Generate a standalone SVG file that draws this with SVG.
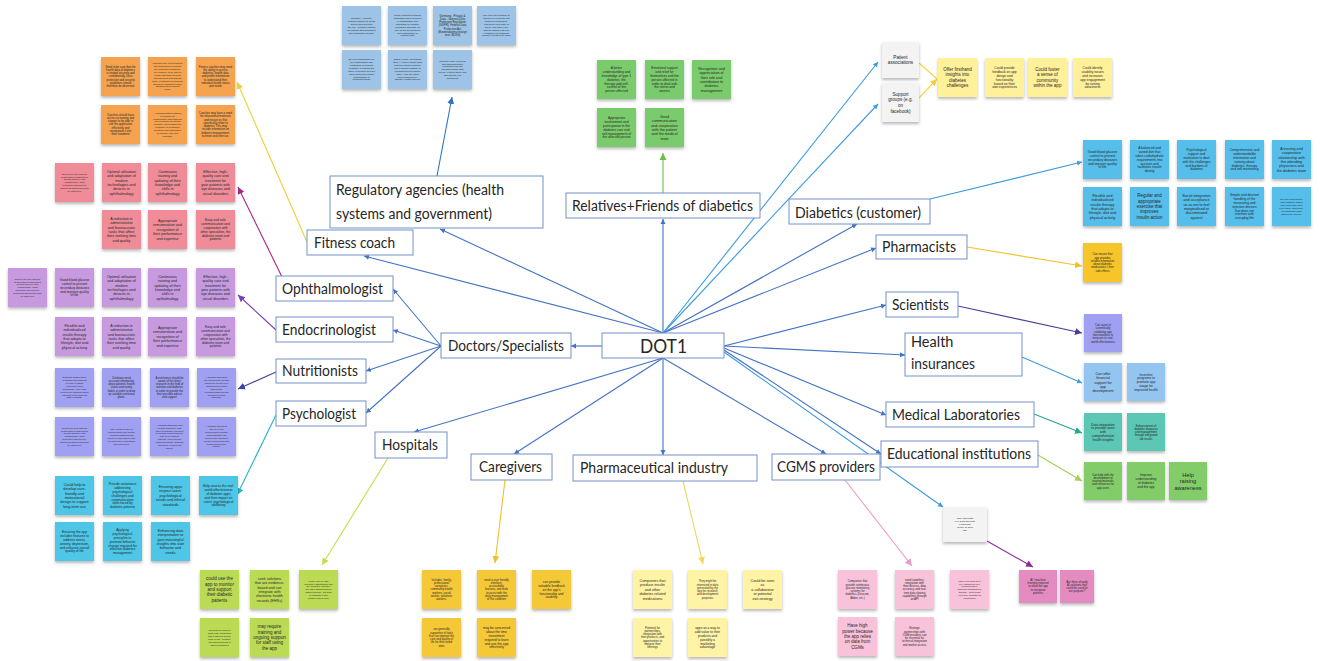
<svg xmlns="http://www.w3.org/2000/svg" width="1320" height="661" viewBox="0 0 1320 661">
<defs>
<filter id="sh" x="-20%" y="-20%" width="140%" height="150%"><feDropShadow dx="0" dy="2" stdDeviation="1.4" flood-color="#000" flood-opacity="0.28"/></filter>
<marker id="mb" markerUnits="userSpaceOnUse" markerWidth="6" markerHeight="6" refX="5" refY="3" orient="auto"><path d="M0,0.5 L5,3 L0,5.5 z" fill="#4472C4"/></marker>
<marker id="mlb" markerUnits="userSpaceOnUse" markerWidth="6" markerHeight="6" refX="5" refY="3" orient="auto"><path d="M0,0.5 L5,3 L0,5.5 z" fill="#3C9BDD"/></marker>
<marker id="mreg" markerUnits="userSpaceOnUse" markerWidth="8" markerHeight="8" refX="7" refY="4" orient="auto"><path d="M0,0.5 L7,4 L0,7.5 z" fill="#2E75B6"/></marker>
<marker id="mgr" markerUnits="userSpaceOnUse" markerWidth="8" markerHeight="8" refX="7" refY="4" orient="auto"><path d="M0,0.5 L7,4 L0,7.5 z" fill="#6CC04A"/></marker>
<marker id="myl" markerUnits="userSpaceOnUse" markerWidth="8" markerHeight="8" refX="7" refY="4" orient="auto"><path d="M0,0.5 L7,4 L0,7.5 z" fill="#EFD03A"/></marker>
<marker id="mmag" markerUnits="userSpaceOnUse" markerWidth="8" markerHeight="8" refX="7" refY="4" orient="auto"><path d="M0,0.5 L7,4 L0,7.5 z" fill="#A8287E"/></marker>
<marker id="mpur" markerUnits="userSpaceOnUse" markerWidth="8" markerHeight="8" refX="7" refY="4" orient="auto"><path d="M0,0.5 L7,4 L0,7.5 z" fill="#7A3FB5"/></marker>
<marker id="mnav" markerUnits="userSpaceOnUse" markerWidth="8" markerHeight="8" refX="7" refY="4" orient="auto"><path d="M0,0.5 L7,4 L0,7.5 z" fill="#3F3FA8"/></marker>
<marker id="mcy" markerUnits="userSpaceOnUse" markerWidth="8" markerHeight="8" refX="7" refY="4" orient="auto"><path d="M0,0.5 L7,4 L0,7.5 z" fill="#22B5C8"/></marker>
<marker id="myg" markerUnits="userSpaceOnUse" markerWidth="8" markerHeight="8" refX="7" refY="4" orient="auto"><path d="M0,0.5 L7,4 L0,7.5 z" fill="#C9DB4A"/></marker>
<marker id="mgo" markerUnits="userSpaceOnUse" markerWidth="8" markerHeight="8" refX="7" refY="4" orient="auto"><path d="M0,0.5 L7,4 L0,7.5 z" fill="#F0C02A"/></marker>
<marker id="mpa" markerUnits="userSpaceOnUse" markerWidth="8" markerHeight="8" refX="7" refY="4" orient="auto"><path d="M0,0.5 L7,4 L0,7.5 z" fill="#EFD85C"/></marker>
<marker id="mpk" markerUnits="userSpaceOnUse" markerWidth="8" markerHeight="8" refX="7" refY="4" orient="auto"><path d="M0,0.5 L7,4 L0,7.5 z" fill="#EE9CC6"/></marker>
<marker id="mvi" markerUnits="userSpaceOnUse" markerWidth="8" markerHeight="8" refX="7" refY="4" orient="auto"><path d="M0,0.5 L7,4 L0,7.5 z" fill="#8B2C9C"/></marker>
<marker id="msc" markerUnits="userSpaceOnUse" markerWidth="8" markerHeight="8" refX="7" refY="4" orient="auto"><path d="M0,0.5 L7,4 L0,7.5 z" fill="#4B3F9C"/></marker>
<marker id="mte" markerUnits="userSpaceOnUse" markerWidth="8" markerHeight="8" refX="7" refY="4" orient="auto"><path d="M0,0.5 L7,4 L0,7.5 z" fill="#25A88E"/></marker>
<marker id="mlg" markerUnits="userSpaceOnUse" markerWidth="8" markerHeight="8" refX="7" refY="4" orient="auto"><path d="M0,0.5 L7,4 L0,7.5 z" fill="#A6CF55"/></marker>
<style>
.lb rect{fill:#fff;stroke:#7391C9;stroke-width:1}
.lb text{font-family:Lato,'Liberation Sans',sans-serif;font-size:14.5px;fill:#262626}
.nt{filter:url(#sh)}
.n0,.n1,.n2,.n3,.n4,.n5,.pa{font-family:'Liberation Sans',Arial,sans-serif;fill:#262626;text-anchor:middle}
.n0{font-size:2.4px}.n1{font-size:2.8px}.n2{font-size:3.3px}.n3{font-size:3.7px}.n4{font-size:4.5px}.n5{font-size:5.6px}.pa{font-size:4.6px}
.reg{fill:#9DC3E6}.org{fill:#F5A34F}.rel{fill:#7ACB6C}.pnk{fill:#F08C98}.pur{fill:#C79AE0}.per{fill:#A0A0F2}.cya{fill:#4DC6E8}
.gry{fill:#F3F3F3}.ylw{fill:#FFF09A}.rbl{fill:#55BEEB}.gld{fill:#F5C52B}.hin{fill:#94C5F0}.tea{fill:#5CC7B5}.edu{fill:#82CC6A}
.ygr{fill:#BCDB54}.car{fill:#F5C838}.pha{fill:#FFF3A6}.cgm{fill:#F9C2DB}.mag{fill:#E48CC2}
.c{fill:none;stroke-width:1.1}
</style>
</defs>
<rect width="1320" height="661" fill="#fff"/>

<g id="connectors">
<g stroke="#4472C4" class="c">
<line x1="663" y1="333" x2="440" y2="229" marker-end="url(#mb)"/>
<line x1="663" y1="333" x2="663" y2="219" marker-end="url(#mb)"/>
<line x1="663" y1="333" x2="364" y2="256" marker-end="url(#mb)"/>
<line x1="663" y1="333" x2="857" y2="224" marker-end="url(#mb)"/>
<line x1="663" y1="333" x2="876" y2="248" marker-end="url(#mb)"/>
<line x1="602" y1="346" x2="571" y2="346" marker-end="url(#mb)"/>
<line x1="441" y1="346" x2="393" y2="289" marker-end="url(#mb)"/>
<line x1="441" y1="346" x2="393" y2="330" marker-end="url(#mb)"/>
<line x1="441" y1="346" x2="366" y2="371" marker-end="url(#mb)"/>
<line x1="441" y1="346" x2="366" y2="413" marker-end="url(#mb)"/>
<line x1="724" y1="346" x2="886" y2="305" marker-end="url(#mb)"/>
<line x1="724" y1="346" x2="905" y2="355" marker-end="url(#mb)"/>
<line x1="724" y1="348" x2="886" y2="415" marker-end="url(#mb)"/>
<line x1="724" y1="350" x2="881" y2="454" marker-end="url(#mb)"/>
<line x1="663" y1="358" x2="414" y2="432" marker-end="url(#mb)"/>
<line x1="663" y1="358" x2="514" y2="454" marker-end="url(#mb)"/>
<line x1="663" y1="358" x2="663" y2="455" marker-end="url(#mb)"/>
<line x1="663" y1="358" x2="826" y2="454" marker-end="url(#mb)"/>
</g>
<g stroke="#3C9BDD" class="c">
<line x1="663" y1="333" x2="878" y2="62" marker-end="url(#mlb)"/>
<line x1="663" y1="333" x2="878" y2="104" marker-end="url(#mlb)"/>
<line x1="724" y1="352" x2="943" y2="507" marker-end="url(#mlb)"/>
<line x1="930" y1="199" x2="1082" y2="162" marker-end="url(#mlb)"/>
<line x1="1022" y1="357" x2="1082" y2="383" marker-end="url(#mlb)"/>
</g>
<line class="c" stroke="#2E75B6" x1="437" y1="176" x2="452" y2="97" marker-end="url(#mreg)"/>
<line class="c" stroke="#6CC04A" x1="663" y1="193" x2="663" y2="153" marker-end="url(#mgr)"/>
<line class="c" stroke="#EFD03A" x1="307" y1="242" x2="237" y2="82" marker-end="url(#myl)"/>
<line class="c" stroke="#A8287E" x1="282" y1="277" x2="238" y2="187" marker-end="url(#mmag)"/>
<line class="c" stroke="#7A3FB5" x1="276" y1="330" x2="238" y2="295" marker-end="url(#mpur)"/>
<line class="c" stroke="#3F3FA8" x1="276" y1="372" x2="238" y2="389" marker-end="url(#mnav)"/>
<line class="c" stroke="#22B5C8" x1="276" y1="415" x2="237" y2="495" marker-end="url(#mcy)"/>
<line class="c" stroke="#C9DB4A" x1="388" y1="458" x2="322" y2="565" marker-end="url(#myg)"/>
<line class="c" stroke="#F0C02A" x1="505" y1="480" x2="495" y2="563" marker-end="url(#mgo)"/>
<line class="c" stroke="#EFD85C" x1="683" y1="481" x2="703" y2="564" marker-end="url(#mpa)"/>
<line class="c" stroke="#EE9CC6" x1="845" y1="480" x2="912" y2="566" marker-end="url(#mpk)"/>
<line class="c" stroke="#8B2C9C" x1="987" y1="541" x2="1033" y2="567" marker-end="url(#mvi)"/>
<line class="c" stroke="#EFC530" x1="967" y1="247" x2="1082" y2="266" marker-end="url(#mgo)"/>
<line class="c" stroke="#4B3F9C" x1="958" y1="306" x2="1082" y2="333" marker-end="url(#msc)"/>
<line class="c" stroke="#25A88E" x1="1034" y1="414" x2="1082" y2="433" marker-end="url(#mte)"/>
<line class="c" stroke="#A6CF55" x1="1038" y1="455" x2="1082" y2="481" marker-end="url(#mlg)"/>
<line class="c" stroke="#F5D63D" x1="919" y1="63" x2="937" y2="79"/>
<line class="c" stroke="#F5D63D" x1="919" y1="98" x2="937" y2="79" marker-end="url(#myl)"/>
</g>

<g id="labels">
<g id="node-regulatory" class="lb"><rect x="330" y="176" width="213" height="52"/><text x="336" y="195" textLength="168" lengthAdjust="spacingAndGlyphs">Regulatory agencies (health</text><text x="336" y="219" textLength="156" lengthAdjust="spacingAndGlyphs">systems and government)</text></g>
<g id="node-relatives" class="lb"><rect x="566" y="193" width="194" height="25"/><text x="572" y="211" textLength="181" lengthAdjust="spacingAndGlyphs">Relatives+Friends of diabetics</text></g>
<g id="node-diabetics" class="lb"><rect x="789" y="199" width="141" height="25"/><text x="795" y="217.5" textLength="126" lengthAdjust="spacingAndGlyphs">Diabetics (customer)</text></g>
<g id="node-fitness" class="lb"><rect x="307" y="230" width="106" height="25"/><text x="314" y="247.5" textLength="81" lengthAdjust="spacingAndGlyphs">Fitness coach</text></g>
<g id="node-pharmacists" class="lb"><rect x="876" y="235" width="91" height="24"/><text x="882" y="252" textLength="74" lengthAdjust="spacingAndGlyphs">Pharmacists</text></g>
<g id="node-ophthalmologist" class="lb"><rect x="276" y="276" width="117" height="25"/><text x="282" y="293.5" textLength="101" lengthAdjust="spacingAndGlyphs">Ophthalmologist</text></g>
<g id="node-scientists" class="lb"><rect x="886" y="292" width="72" height="25"/><text x="892" y="309.5" textLength="57" lengthAdjust="spacingAndGlyphs">Scientists</text></g>
<g id="node-endocrinologist" class="lb"><rect x="276" y="317" width="117" height="25"/><text x="282" y="334.5" textLength="94" lengthAdjust="spacingAndGlyphs">Endocrinologist</text></g>
<g id="node-doctors" class="lb"><rect x="441" y="333" width="130" height="25"/><text x="448" y="350.5" textLength="116" lengthAdjust="spacingAndGlyphs">Doctors/Specialists</text></g>
<g id="node-dot1" class="lb"><rect x="602" y="333" width="122" height="25"/><text x="640" y="353" style="font-size:20px" textLength="47" lengthAdjust="spacingAndGlyphs">DOT1</text></g>
<g id="node-health-insurances" class="lb"><rect x="905" y="333" width="117" height="43"/><text x="911" y="347">Health</text><text x="911" y="369" textLength="64" lengthAdjust="spacingAndGlyphs">insurances</text></g>
<g id="node-nutritionists" class="lb"><rect x="276" y="359" width="90" height="24"/><text x="282" y="376" textLength="76" lengthAdjust="spacingAndGlyphs">Nutritionists</text></g>
<g id="node-psychologist" class="lb"><rect x="276" y="401" width="90" height="25"/><text x="282" y="418.5" textLength="74" lengthAdjust="spacingAndGlyphs">Psychologist</text></g>
<g id="node-medical-labs" class="lb"><rect x="886" y="402" width="148" height="25"/><text x="892" y="419.5" textLength="128" lengthAdjust="spacingAndGlyphs">Medical Laboratories</text></g>
<g id="node-educational" class="lb"><rect x="881" y="441" width="157" height="26"/><text x="887" y="459" textLength="144" lengthAdjust="spacingAndGlyphs">Educational institutions</text></g>
<g id="node-hospitals" class="lb"><rect x="375" y="432" width="72" height="26"/><text x="382" y="450" textLength="56" lengthAdjust="spacingAndGlyphs">Hospitals</text></g>
<g id="node-caregivers" class="lb"><rect x="471" y="454" width="81" height="26"/><text x="479" y="472" textLength="63" lengthAdjust="spacingAndGlyphs">Caregivers</text></g>
<g id="node-pharma" class="lb"><rect x="573" y="455" width="184" height="26"/><text x="580" y="473" textLength="148" lengthAdjust="spacingAndGlyphs">Pharmaceutical industry</text></g>
<g id="node-cgms" class="lb"><rect x="772" y="454" width="108" height="26"/><text x="777" y="472" textLength="98" lengthAdjust="spacingAndGlyphs">CGMS providers</text></g>
</g>

<g id="notes-regulatory">
<g id="reg-1" transform="translate(342,6)"><rect class="nt reg" width="39" height="39"/><text class="n0" y="13.09"><tspan x="19.5">Germany - Medical:</tspan><tspan x="19.5" dy="2.9">Federal Institute for Drugs</tspan><tspan x="19.5" dy="2.9">and Medical Devices</tspan><tspan x="19.5" dy="2.9">(BfArM) - German Institute</tspan><tspan x="19.5" dy="2.9">for Medical Documentation</tspan><tspan x="19.5" dy="2.9">and Information (DIMDI)</tspan></text></g>
<g id="reg-2" transform="translate(388,6)"><rect class="nt reg" width="39" height="39"/><text class="n0" y="10.19"><tspan x="19.5">DIMDI maintains medical</tspan><tspan x="19.5" dy="2.9">databases and is involved</tspan><tspan x="19.5" dy="2.9">in classification and</tspan><tspan x="19.5" dy="2.9">standards for medical</tspan><tspan x="19.5" dy="2.9">processes and data, as</tspan><tspan x="19.5" dy="2.9">well as the development</tspan><tspan x="19.5" dy="2.9">and classification of</tspan><tspan x="19.5" dy="2.9">medical data</tspan></text></g>
<g id="reg-3" transform="translate(433,6)"><rect class="nt reg" width="39" height="39"/><text class="n1" y="10.58"><tspan x="19.5">Germany - Privacy &amp;</tspan><tspan x="19.5" dy="3.3">Data - General Data</tspan><tspan x="19.5" dy="3.3">Protection Regulation</tspan><tspan x="19.5" dy="3.3">(GDPR), Federal Data</tspan><tspan x="19.5" dy="3.3">Protection Act</tspan><tspan x="19.5" dy="3.3">(Bundesdatenschutzge</tspan><tspan x="19.5" dy="3.3">setz, BDSG)</tspan></text></g>
<g id="reg-4" transform="translate(477,6)"><rect class="nt reg" width="39" height="39"/><text class="n0" y="10.19"><tspan x="19.5">May have the authority to</tspan><tspan x="19.5" dy="2.9">approve or reject the app</tspan><tspan x="19.5" dy="2.9">based on compliance.</tspan><tspan x="19.5" dy="2.9">This group can make or</tspan><tspan x="19.5" dy="2.9">break. Use data, if we</tspan><tspan x="19.5" dy="2.9">want to market it as type</tspan><tspan x="19.5" dy="2.9">1 diabetes for treatment,</tspan><tspan x="19.5" dy="2.9">decision needs to be made</tspan></text></g>
<g id="reg-5" transform="translate(342,50)"><rect class="nt reg" width="39" height="39"/><text class="n0" y="10.19"><tspan x="19.5">BfArM is responsible for</tspan><tspan x="19.5" dy="2.9">the authorisation and</tspan><tspan x="19.5" dy="2.9">registration of medical</tspan><tspan x="19.5" dy="2.9">products. It ensures the</tspan><tspan x="19.5" dy="2.9">safety of medical devices</tspan><tspan x="19.5" dy="2.9">and pursues the market</tspan><tspan x="19.5" dy="2.9">authorisation of</tspan><tspan x="19.5" dy="2.9">pharmaceuticals</tspan></text></g>
<g id="reg-6" transform="translate(388,50)"><rect class="nt reg" width="39" height="39"/><text class="n0" y="10.19"><tspan x="19.5">Digital Health Applications</tspan><tspan x="19.5" dy="2.9">(DiGA): Law on digital apps</tspan><tspan x="19.5" dy="2.9">requires clinical evidence</tspan><tspan x="19.5" dy="2.9">and a specific pathway to</tspan><tspan x="19.5" dy="2.9">reimbursement of digital</tspan><tspan x="19.5" dy="2.9">apps. Apps are listed</tspan><tspan x="19.5" dy="2.9">and reimbursed by</tspan><tspan x="19.5" dy="2.9">statutory health insurers</tspan></text></g>
<g id="reg-7" transform="translate(433,50)"><rect class="nt reg" width="39" height="39"/><text class="n0" y="11.64"><tspan x="19.5">Generally have concerns</tspan><tspan x="19.5" dy="2.9">that pharmaceutical</tspan><tspan x="19.5" dy="2.9">companies can ask</tspan><tspan x="19.5" dy="2.9">questions about data</tspan><tspan x="19.5" dy="2.9">privacy. Patient safety and</tspan><tspan x="19.5" dy="2.9">data security are</tspan><tspan x="19.5" dy="2.9">paramount</tspan></text></g>
</g>

<g id="notes-fitness">
<g id="fit-1" transform="translate(101,57)"><rect class="nt org" width="39" height="39"/><text class="n1" y="10.58"><tspan x="19.5">Need to be sure that the</tspan><tspan x="19.5" dy="3.3">health data of diabetics</tspan><tspan x="19.5" dy="3.3">is treated securely and</tspan><tspan x="19.5" dy="3.3">confidentially. Data</tspan><tspan x="19.5" dy="3.3">protection and security</tspan><tspan x="19.5" dy="3.3">guidelines should</tspan><tspan x="19.5" dy="3.3">therefore be observed.</tspan></text></g>
<g id="fit-2" transform="translate(148,57)"><rect class="nt org" width="39" height="39"/><text class="n0" y="7.29"><tspan x="19.5">Coaches may need features</tspan><tspan x="19.5" dy="2.9">that allow them to monitor</tspan><tspan x="19.5" dy="2.9">the progress of diabetics,</tspan><tspan x="19.5" dy="2.9">for example, to be able to</tspan><tspan x="19.5" dy="2.9">create individual physical</tspan><tspan x="19.5" dy="2.9">training plans and discuss</tspan><tspan x="19.5" dy="2.9">them. Feedback on progress</tspan><tspan x="19.5" dy="2.9">should be enabled to make</tspan><tspan x="19.5" dy="2.9">adjustments to training</tspan><tspan x="19.5" dy="2.9">plans.</tspan></text></g>
<g id="fit-3" transform="translate(196,57)"><rect class="nt org" width="39" height="39"/><text class="n1" y="10.58"><tspan x="19.5">Fitness coaches may need</tspan><tspan x="19.5" dy="3.3">the ability to access</tspan><tspan x="19.5" dy="3.3">diabetics' health data</tspan><tspan x="19.5" dy="3.3">and profile information</tspan><tspan x="19.5" dy="3.3">to understand their</tspan><tspan x="19.5" dy="3.3">individual health status</tspan><tspan x="19.5" dy="3.3">and needs</tspan></text></g>
<g id="fit-4" transform="translate(101,105)"><rect class="nt org" width="39" height="39"/><text class="n1" y="10.58"><tspan x="19.5">Coaches should have</tspan><tspan x="19.5" dy="3.3">access to training and</tspan><tspan x="19.5" dy="3.3">support to be able to</tspan><tspan x="19.5" dy="3.3">use the application</tspan><tspan x="19.5" dy="3.3">effectively and</tspan><tspan x="19.5" dy="3.3">incorporate it into</tspan><tspan x="19.5" dy="3.3">their treatment</tspan></text></g>
<g id="fit-5" transform="translate(148,105)"><rect class="nt org" width="39" height="39"/><text class="n0" y="8.74"><tspan x="19.5">A communication platform</tspan><tspan x="19.5" dy="2.9">or function for</tspan><tspan x="19.5" dy="2.9">collaboration with diabetics</tspan><tspan x="19.5" dy="2.9">can be helpful for fitness</tspan><tspan x="19.5" dy="2.9">coaches. This enables the</tspan><tspan x="19.5" dy="2.9">exchange of messages,</tspan><tspan x="19.5" dy="2.9">questions and information</tspan><tspan x="19.5" dy="2.9">to improve care and</tspan><tspan x="19.5" dy="2.9">coaching.</tspan></text></g>
<g id="fit-6" transform="translate(196,105)"><rect class="nt org" width="39" height="39"/><text class="n1" y="8.93"><tspan x="19.5">Coaches may have a need</tspan><tspan x="19.5" dy="3.3">for educational materials</tspan><tspan x="19.5" dy="3.3">and resources that</tspan><tspan x="19.5" dy="3.3">specifically relate to</tspan><tspan x="19.5" dy="3.3">diabetes. This may</tspan><tspan x="19.5" dy="3.3">include information on</tspan><tspan x="19.5" dy="3.3">diabetes management,</tspan><tspan x="19.5" dy="3.3">nutrition and exercise.</tspan></text></g>
</g>

<g id="notes-relatives">
<g id="rel-1" transform="translate(597,60)"><rect class="nt rel" width="39" height="39"/><text class="n2" y="8.96"><tspan x="19.5">A better</tspan><tspan x="19.5" dy="3.9">understanding and</tspan><tspan x="19.5" dy="3.9">knowledge of type 1</tspan><tspan x="19.5" dy="3.9">diabetes, the</tspan><tspan x="19.5" dy="3.9">therapy and self-</tspan><tspan x="19.5" dy="3.9">control of the</tspan><tspan x="19.5" dy="3.9">person affected</tspan></text></g>
<g id="rel-2" transform="translate(645,60)"><rect class="nt rel" width="39" height="39"/><text class="n2" y="8.96"><tspan x="19.5">Emotional support</tspan><tspan x="19.5" dy="3.9">and relief for</tspan><tspan x="19.5" dy="3.9">themselves and the</tspan><tspan x="19.5" dy="3.9">person affected in</tspan><tspan x="19.5" dy="3.9">order to deal with</tspan><tspan x="19.5" dy="3.9">the stress and</tspan><tspan x="19.5" dy="3.9">worries</tspan></text></g>
<g id="rel-3" transform="translate(692,60)"><rect class="nt rel" width="39" height="39"/><text class="n3" y="9.8"><tspan x="19.5">Recognition and</tspan><tspan x="19.5" dy="4.4">appreciation of</tspan><tspan x="19.5" dy="4.4">their role and</tspan><tspan x="19.5" dy="4.4">contribution to</tspan><tspan x="19.5" dy="4.4">diabetes</tspan><tspan x="19.5" dy="4.4">management</tspan></text></g>
<g id="rel-4" transform="translate(597,108)"><rect class="nt rel" width="39" height="39"/><text class="n2" y="10.91"><tspan x="19.5">Appropriate</tspan><tspan x="19.5" dy="3.9">involvement and</tspan><tspan x="19.5" dy="3.9">participation in the</tspan><tspan x="19.5" dy="3.9">diabetes care and</tspan><tspan x="19.5" dy="3.9">self-management of</tspan><tspan x="19.5" dy="3.9">the affected person</tspan></text></g>
<g id="rel-5" transform="translate(645,108)"><rect class="nt rel" width="39" height="39"/><text class="n3" y="9.8"><tspan x="19.5">Good</tspan><tspan x="19.5" dy="4.4">communication</tspan><tspan x="19.5" dy="4.4">and cooperation</tspan><tspan x="19.5" dy="4.4">with the patient</tspan><tspan x="19.5" dy="4.4">and the medical</tspan><tspan x="19.5" dy="4.4">team</tspan></text></g>
</g>

<g id="notes-ophthalmologist">
<g id="oph-1" transform="translate(55,163)"><rect class="nt pnk" width="39" height="39"/><text class="n0" y="11.64"><tspan x="19.5">Need to be sure that the</tspan><tspan x="19.5" dy="2.9">health data of diabetics is</tspan><tspan x="19.5" dy="2.9">treated securely and</tspan><tspan x="19.5" dy="2.9">confidentially. Data</tspan><tspan x="19.5" dy="2.9">protection and security</tspan><tspan x="19.5" dy="2.9">guidelines should therefore</tspan><tspan x="19.5" dy="2.9">be observed.</tspan></text></g>
<g id="oph-2" transform="translate(102,163)"><rect class="nt pnk" width="39" height="39"/><text class="n3" y="9.8"><tspan x="19.5">Optimal utilisation</tspan><tspan x="19.5" dy="4.4">and adaptation of</tspan><tspan x="19.5" dy="4.4">modern</tspan><tspan x="19.5" dy="4.4">technologies and</tspan><tspan x="19.5" dy="4.4">devices in</tspan><tspan x="19.5" dy="4.4">ophthalmology</tspan></text></g>
<g id="oph-3" transform="translate(148,163)"><rect class="nt pnk" width="39" height="39"/><text class="n3" y="9.8"><tspan x="19.5">Continuous</tspan><tspan x="19.5" dy="4.4">training and</tspan><tspan x="19.5" dy="4.4">updating of their</tspan><tspan x="19.5" dy="4.4">knowledge and</tspan><tspan x="19.5" dy="4.4">skills in</tspan><tspan x="19.5" dy="4.4">ophthalmology</tspan></text></g>
<g id="oph-4" transform="translate(196,163)"><rect class="nt pnk" width="39" height="39"/><text class="n3" y="9.8"><tspan x="19.5">Effective, high-</tspan><tspan x="19.5" dy="4.4">quality care and</tspan><tspan x="19.5" dy="4.4">treatment for</tspan><tspan x="19.5" dy="4.4">your patients with</tspan><tspan x="19.5" dy="4.4">eye diseases and</tspan><tspan x="19.5" dy="4.4">visual disorders</tspan></text></g>
<g id="oph-5" transform="translate(102,210)"><rect class="nt pnk" width="39" height="39"/><text class="n3" y="9.8"><tspan x="19.5">A reduction in</tspan><tspan x="19.5" dy="4.4">administrative</tspan><tspan x="19.5" dy="4.4">and bureaucratic</tspan><tspan x="19.5" dy="4.4">tasks that affect</tspan><tspan x="19.5" dy="4.4">their working time</tspan><tspan x="19.5" dy="4.4">and quality</tspan></text></g>
<g id="oph-6" transform="translate(148,210)"><rect class="nt pnk" width="39" height="39"/><text class="n3" y="12"><tspan x="19.5">Appropriate</tspan><tspan x="19.5" dy="4.4">remuneration and</tspan><tspan x="19.5" dy="4.4">recognition of</tspan><tspan x="19.5" dy="4.4">their performance</tspan><tspan x="19.5" dy="4.4">and expertise</tspan></text></g>
<g id="oph-7" transform="translate(196,210)"><rect class="nt pnk" width="39" height="39"/><text class="n2" y="10.91"><tspan x="19.5">Easy and safe</tspan><tspan x="19.5" dy="3.9">communication and</tspan><tspan x="19.5" dy="3.9">cooperation with</tspan><tspan x="19.5" dy="3.9">other specialists, the</tspan><tspan x="19.5" dy="3.9">diabetes team and</tspan><tspan x="19.5" dy="3.9">patients</tspan></text></g>
</g>

<g id="notes-endocrinologist">
<g id="end-1" transform="translate(8,268)"><rect class="nt pur" width="39" height="39"/><text class="n0" y="11.64"><tspan x="19.5">Need to be sure that the</tspan><tspan x="19.5" dy="2.9">health data of diabetics is</tspan><tspan x="19.5" dy="2.9">treated securely and</tspan><tspan x="19.5" dy="2.9">confidentially. Data</tspan><tspan x="19.5" dy="2.9">protection and security</tspan><tspan x="19.5" dy="2.9">guidelines should therefore</tspan><tspan x="19.5" dy="2.9">be observed.</tspan></text></g>
<g id="end-2" transform="translate(55,268)"><rect class="nt pur" width="39" height="39"/><text class="n2" y="12.86"><tspan x="19.5">Good blood glucose</tspan><tspan x="19.5" dy="3.9">control to prevent</tspan><tspan x="19.5" dy="3.9">secondary diseases</tspan><tspan x="19.5" dy="3.9">and improve quality</tspan><tspan x="19.5" dy="3.9">of life</tspan></text></g>
<g id="end-3" transform="translate(102,268)"><rect class="nt pur" width="39" height="39"/><text class="n3" y="9.8"><tspan x="19.5">Optimal utilisation</tspan><tspan x="19.5" dy="4.4">and adaptation of</tspan><tspan x="19.5" dy="4.4">modern</tspan><tspan x="19.5" dy="4.4">technologies and</tspan><tspan x="19.5" dy="4.4">devices in</tspan><tspan x="19.5" dy="4.4">ophthalmology</tspan></text></g>
<g id="end-4" transform="translate(148,268)"><rect class="nt pur" width="39" height="39"/><text class="n3" y="9.8"><tspan x="19.5">Continuous</tspan><tspan x="19.5" dy="4.4">training and</tspan><tspan x="19.5" dy="4.4">updating of their</tspan><tspan x="19.5" dy="4.4">knowledge and</tspan><tspan x="19.5" dy="4.4">skills in</tspan><tspan x="19.5" dy="4.4">opthalmology</tspan></text></g>
<g id="end-5" transform="translate(196,268)"><rect class="nt pur" width="39" height="39"/><text class="n3" y="9.8"><tspan x="19.5">Effective, high-</tspan><tspan x="19.5" dy="4.4">quality care and</tspan><tspan x="19.5" dy="4.4">treatment for</tspan><tspan x="19.5" dy="4.4">your patients with</tspan><tspan x="19.5" dy="4.4">eye diseases and</tspan><tspan x="19.5" dy="4.4">visual disorders</tspan></text></g>
<g id="end-6" transform="translate(55,317)"><rect class="nt pur" width="39" height="39"/><text class="n3" y="9.8"><tspan x="19.5">Flexible and</tspan><tspan x="19.5" dy="4.4">individualised</tspan><tspan x="19.5" dy="4.4">insulin therapy</tspan><tspan x="19.5" dy="4.4">that adapts to</tspan><tspan x="19.5" dy="4.4">lifestyle, diet and</tspan><tspan x="19.5" dy="4.4">physical activity</tspan></text></g>
<g id="end-7" transform="translate(102,317)"><rect class="nt pur" width="39" height="39"/><text class="n3" y="9.8"><tspan x="19.5">A reduction in</tspan><tspan x="19.5" dy="4.4">administrative</tspan><tspan x="19.5" dy="4.4">and bureaucratic</tspan><tspan x="19.5" dy="4.4">tasks that affect</tspan><tspan x="19.5" dy="4.4">their working time</tspan><tspan x="19.5" dy="4.4">and quality</tspan></text></g>
<g id="end-8" transform="translate(148,317)"><rect class="nt pur" width="39" height="39"/><text class="n3" y="12"><tspan x="19.5">Appropriate</tspan><tspan x="19.5" dy="4.4">remuneration and</tspan><tspan x="19.5" dy="4.4">recognition of</tspan><tspan x="19.5" dy="4.4">their performance</tspan><tspan x="19.5" dy="4.4">and expertise</tspan></text></g>
<g id="end-9" transform="translate(196,317)"><rect class="nt pur" width="39" height="39"/><text class="n2" y="10.91"><tspan x="19.5">Easy and safe</tspan><tspan x="19.5" dy="3.9">communication and</tspan><tspan x="19.5" dy="3.9">cooperation with</tspan><tspan x="19.5" dy="3.9">other specialists, the</tspan><tspan x="19.5" dy="3.9">diabetes team and</tspan><tspan x="19.5" dy="3.9">patients</tspan></text></g>
</g>

<g id="notes-nutritionists">
<g id="nut-1" transform="translate(55,368)"><rect class="nt per" width="39" height="39"/><text class="n0" y="10.19"><tspan x="19.5">Dietitians must receive</tspan><tspan x="19.5" dy="2.9">feedback from patients</tspan><tspan x="19.5" dy="2.9">in order to adapt</tspan><tspan x="19.5" dy="2.9">nutritional plans</tspan><tspan x="19.5" dy="2.9">accordingly. They also</tspan><tspan x="19.5" dy="2.9">need to be informed about</tspan><tspan x="19.5" dy="2.9">changes in the patient's</tspan><tspan x="19.5" dy="2.9">state of health.</tspan></text></g>
<g id="nut-2" transform="translate(102,368)"><rect class="nt per" width="39" height="39"/><text class="n1" y="10.58"><tspan x="19.5">Dietitians need</tspan><tspan x="19.5" dy="3.3">accurate information</tspan><tspan x="19.5" dy="3.3">about patients' health</tspan><tspan x="19.5" dy="3.3">status and eating</tspan><tspan x="19.5" dy="3.3">habits in order to draw</tspan><tspan x="19.5" dy="3.3">up suitable nutritional</tspan><tspan x="19.5" dy="3.3">plans.</tspan></text></g>
<g id="nut-3" transform="translate(150,368)"><rect class="nt per" width="39" height="39"/><text class="n1" y="10.58"><tspan x="19.5">A nutritionist should be</tspan><tspan x="19.5" dy="3.3">aware of the latest</tspan><tspan x="19.5" dy="3.3">research in the field of</tspan><tspan x="19.5" dy="3.3">nutrition and diabetes</tspan><tspan x="19.5" dy="3.3">in order to provide the</tspan><tspan x="19.5" dy="3.3">best possible advice</tspan><tspan x="19.5" dy="3.3">and support</tspan></text></g>
<g id="nut-4" transform="translate(197,368)"><rect class="nt per" width="39" height="39"/><text class="n0" y="10.19"><tspan x="19.5">A solution that takes</tspan><tspan x="19.5" dy="2.9">into account the specific</tspan><tspan x="19.5" dy="2.9">nutritional needs of T1</tspan><tspan x="19.5" dy="2.9">diabetics and offers</tspan><tspan x="19.5" dy="2.9">appropriate</tspan><tspan x="19.5" dy="2.9">recommendations and</tspan><tspan x="19.5" dy="2.9">support for meal</tspan><tspan x="19.5" dy="2.9">planning.</tspan></text></g>
<g id="nut-5" transform="translate(55,417)"><rect class="nt per" width="39" height="39"/><text class="n0" y="11.64"><tspan x="19.5">Need to be sure that the</tspan><tspan x="19.5" dy="2.9">health data of diabetics is</tspan><tspan x="19.5" dy="2.9">treated securely and</tspan><tspan x="19.5" dy="2.9">confidentially. Data</tspan><tspan x="19.5" dy="2.9">protection and security</tspan><tspan x="19.5" dy="2.9">guidelines should therefore</tspan><tspan x="19.5" dy="2.9">be observed.</tspan></text></g>
<g id="nut-6" transform="translate(102,417)"><rect class="nt per" width="39" height="39"/><text class="n0" y="13.09"><tspan x="19.5">They must be able to</tspan><tspan x="19.5" dy="2.9">communicate their dietary</tspan><tspan x="19.5" dy="2.9">recommendations and</tspan><tspan x="19.5" dy="2.9">plans in a way that is easy</tspan><tspan x="19.5" dy="2.9">for patients to understand</tspan><tspan x="19.5" dy="2.9">and implement.</tspan></text></g>
<g id="nut-7" transform="translate(150,417)"><rect class="nt per" width="39" height="39"/><text class="n0" y="8.74"><tspan x="19.5">A dietitian should be able</tspan><tspan x="19.5" dy="2.9">to work effectively with</tspan><tspan x="19.5" dy="2.9">other healthcare providers</tspan><tspan x="19.5" dy="2.9">to provide comprehensive</tspan><tspan x="19.5" dy="2.9">care to T1 diabetic</tspan><tspan x="19.5" dy="2.9">patients. This includes</tspan><tspan x="19.5" dy="2.9">endocrinologists, diabetes</tspan><tspan x="19.5" dy="2.9">educators, nurses and</tspan><tspan x="19.5" dy="2.9">others.</tspan></text></g>
<g id="nut-8" transform="translate(197,417)"><rect class="nt per" width="39" height="39"/><text class="n0" y="10.19"><tspan x="19.5">A dietitian should be</tspan><tspan x="19.5" dy="2.9">able to create</tspan><tspan x="19.5" dy="2.9">personalised nutrition</tspan><tspan x="19.5" dy="2.9">plans that take into</tspan><tspan x="19.5" dy="2.9">account the individual</tspan><tspan x="19.5" dy="2.9">needs, preferences and</tspan><tspan x="19.5" dy="2.9">health goals of the</tspan><tspan x="19.5" dy="2.9">patient.</tspan></text></g>
</g>

<g id="notes-psychologist">
<g id="psy-1" transform="translate(55,476)"><rect class="nt cya" width="39" height="39"/><text class="n3" y="9.8"><tspan x="19.5">Could help to</tspan><tspan x="19.5" dy="4.4">develop user-</tspan><tspan x="19.5" dy="4.4">friendly and</tspan><tspan x="19.5" dy="4.4">motivational</tspan><tspan x="19.5" dy="4.4">design to support</tspan><tspan x="19.5" dy="4.4">long-term use</tspan></text></g>
<g id="psy-2" transform="translate(103,476)"><rect class="nt cya" width="39" height="39"/><text class="n2" y="8.96"><tspan x="19.5">Provide assistance</tspan><tspan x="19.5" dy="3.9">addressing</tspan><tspan x="19.5" dy="3.9">psychological</tspan><tspan x="19.5" dy="3.9">challenges and</tspan><tspan x="19.5" dy="3.9">communication</tspan><tspan x="19.5" dy="3.9">skills faced by</tspan><tspan x="19.5" dy="3.9">diabetes patients</tspan></text></g>
<g id="psy-3" transform="translate(151,476)"><rect class="nt cya" width="39" height="39"/><text class="n3" y="12"><tspan x="19.5">Ensuring apps</tspan><tspan x="19.5" dy="4.4">respect users'</tspan><tspan x="19.5" dy="4.4">psychological</tspan><tspan x="19.5" dy="4.4">needs and ethical</tspan><tspan x="19.5" dy="4.4">standards</tspan></text></g>
<g id="psy-4" transform="translate(199,476)"><rect class="nt cya" width="39" height="39"/><text class="n2" y="10.91"><tspan x="19.5">Help assess the real-</tspan><tspan x="19.5" dy="3.9">world effectiveness</tspan><tspan x="19.5" dy="3.9">of diabetes apps</tspan><tspan x="19.5" dy="3.9">and their impact on</tspan><tspan x="19.5" dy="3.9">users' psychological</tspan><tspan x="19.5" dy="3.9">wellbeing</tspan></text></g>
<g id="psy-5" transform="translate(55,522)"><rect class="nt cya" width="39" height="39"/><text class="n2" y="10.91"><tspan x="19.5">Ensuring the app</tspan><tspan x="19.5" dy="3.9">includes features to</tspan><tspan x="19.5" dy="3.9">address stress,</tspan><tspan x="19.5" dy="3.9">anxiety, depression,</tspan><tspan x="19.5" dy="3.9">and enhance overall</tspan><tspan x="19.5" dy="3.9">quality of life</tspan></text></g>
<g id="psy-6" transform="translate(103,522)"><rect class="nt cya" width="39" height="39"/><text class="n2" y="8.96"><tspan x="19.5">Applying</tspan><tspan x="19.5" dy="3.9">psychological</tspan><tspan x="19.5" dy="3.9">principles to</tspan><tspan x="19.5" dy="3.9">promote behavior</tspan><tspan x="19.5" dy="3.9">change required for</tspan><tspan x="19.5" dy="3.9">effective diabetes</tspan><tspan x="19.5" dy="3.9">management</tspan></text></g>
<g id="psy-7" transform="translate(151,522)"><rect class="nt cya" width="39" height="39"/><text class="n3" y="9.8"><tspan x="19.5">Enhancing data</tspan><tspan x="19.5" dy="4.4">interpretation to</tspan><tspan x="19.5" dy="4.4">gain meaningful</tspan><tspan x="19.5" dy="4.4">insights into user</tspan><tspan x="19.5" dy="4.4">behavior and</tspan><tspan x="19.5" dy="4.4">needs</tspan></text></g>
</g>

<g id="notes-patients">
<g id="node-patient-associations" transform="translate(882,42)"><rect class="nt gry" width="37" height="36"/><text class="pa" y="16.8"><tspan x="18.5">Patient</tspan><tspan x="18.5" dy="5.6">associations</tspan></text></g>
<g id="node-support-groups" transform="translate(882,83)"><rect class="nt gry" width="37" height="39"/><text class="pa" y="12.7"><tspan x="18.5">Support</tspan><tspan x="18.5" dy="5.6">groups (e.g.</tspan><tspan x="18.5" dy="5.6">on</tspan><tspan x="18.5" dy="5.6">facebook)</tspan></text></g>
<g id="pat-1" transform="translate(938,58)"><rect class="nt ylw" width="39" height="39"/><text class="n4" y="13.13"><tspan x="19.5">Offer firsthand</tspan><tspan x="19.5" dy="5.3">insights into</tspan><tspan x="19.5" dy="5.3">diabetes</tspan><tspan x="19.5" dy="5.3">challenges</tspan></text></g>
<g id="pat-2" transform="translate(985,58)"><rect class="nt ylw" width="39" height="39"/><text class="n2" y="10.91"><tspan x="19.5">Could provide</tspan><tspan x="19.5" dy="3.9">feedback on app</tspan><tspan x="19.5" dy="3.9">design and</tspan><tspan x="19.5" dy="3.9">functionality</tspan><tspan x="19.5" dy="3.9">based on their</tspan><tspan x="19.5" dy="3.9">own experiences</tspan></text></g>
<g id="pat-3" transform="translate(1028,58)"><rect class="nt ylw" width="39" height="39"/><text class="n4" y="13.13"><tspan x="19.5">Could  foster</tspan><tspan x="19.5" dy="5.3">a sense of</tspan><tspan x="19.5" dy="5.3">community</tspan><tspan x="19.5" dy="5.3">within the app</tspan></text></g>
<g id="pat-4" transform="translate(1073,58)"><rect class="nt ylw" width="39" height="39"/><text class="n2" y="10.91"><tspan x="19.5">Could identify</tspan><tspan x="19.5" dy="3.9">usability issues</tspan><tspan x="19.5" dy="3.9">and  increases</tspan><tspan x="19.5" dy="3.9">app engagement</tspan><tspan x="19.5" dy="3.9">by raising</tspan><tspan x="19.5" dy="3.9">awareness</tspan></text></g>
</g>

<g id="notes-diabetics">
<g id="dia-1" transform="translate(1083,140)"><rect class="nt rbl" width="39" height="39"/><text class="n2" y="12.86"><tspan x="19.5">Good blood glucose</tspan><tspan x="19.5" dy="3.9">control to prevent</tspan><tspan x="19.5" dy="3.9">secondary diseases</tspan><tspan x="19.5" dy="3.9">and improve quality</tspan><tspan x="19.5" dy="3.9">of life</tspan></text></g>
<g id="dia-2" transform="translate(1130,140)"><rect class="nt rbl" width="39" height="39"/><text class="n2" y="8.96"><tspan x="19.5">A balanced and</tspan><tspan x="19.5" dy="3.9">varied diet that</tspan><tspan x="19.5" dy="3.9">takes carbohydrate</tspan><tspan x="19.5" dy="3.9">requirements into</tspan><tspan x="19.5" dy="3.9">account and</tspan><tspan x="19.5" dy="3.9">facilitates insulin</tspan><tspan x="19.5" dy="3.9">dosing</tspan></text></g>
<g id="dia-3" transform="translate(1177,140)"><rect class="nt rbl" width="39" height="39"/><text class="n2" y="10.91"><tspan x="19.5">Psychological</tspan><tspan x="19.5" dy="3.9">support and</tspan><tspan x="19.5" dy="3.9">motivation to deal</tspan><tspan x="19.5" dy="3.9">with the challenges</tspan><tspan x="19.5" dy="3.9">and burdens of</tspan><tspan x="19.5" dy="3.9">diabetes</tspan></text></g>
<g id="dia-4" transform="translate(1225,140)"><rect class="nt rbl" width="39" height="39"/><text class="n2" y="10.91"><tspan x="19.5">Comprehensive and</tspan><tspan x="19.5" dy="3.9">understandable</tspan><tspan x="19.5" dy="3.9">information and</tspan><tspan x="19.5" dy="3.9">training about</tspan><tspan x="19.5" dy="3.9">diabetes, therapy</tspan><tspan x="19.5" dy="3.9">and self-monitoring</tspan></text></g>
<g id="dia-5" transform="translate(1272,140)"><rect class="nt rbl" width="39" height="39"/><text class="n3" y="9.8"><tspan x="19.5">A trusting and</tspan><tspan x="19.5" dy="4.4">cooperative</tspan><tspan x="19.5" dy="4.4">relationship with</tspan><tspan x="19.5" dy="4.4">the attending</tspan><tspan x="19.5" dy="4.4">physicians and</tspan><tspan x="19.5" dy="4.4">the diabetes team</tspan></text></g>
<g id="dia-6" transform="translate(1083,187)"><rect class="nt rbl" width="39" height="39"/><text class="n3" y="9.8"><tspan x="19.5">Flexible and</tspan><tspan x="19.5" dy="4.4">individualised</tspan><tspan x="19.5" dy="4.4">insulin therapy</tspan><tspan x="19.5" dy="4.4">that adapts to</tspan><tspan x="19.5" dy="4.4">lifestyle, diet and</tspan><tspan x="19.5" dy="4.4">physical activity</tspan></text></g>
<g id="dia-7" transform="translate(1130,187)"><rect class="nt rbl" width="39" height="39"/><text class="n4" y="10.48"><tspan x="19.5">Regular and</tspan><tspan x="19.5" dy="5.3">appropriate</tspan><tspan x="19.5" dy="5.3">exercise that</tspan><tspan x="19.5" dy="5.3">improves</tspan><tspan x="19.5" dy="5.3">insulin action</tspan></text></g>
<g id="dia-8" transform="translate(1177,187)"><rect class="nt rbl" width="39" height="39"/><text class="n3" y="9.8"><tspan x="19.5">Social integration</tspan><tspan x="19.5" dy="4.4">and acceptance</tspan><tspan x="19.5" dy="4.4">so as not to feel</tspan><tspan x="19.5" dy="4.4">marginalised or</tspan><tspan x="19.5" dy="4.4">discriminated</tspan><tspan x="19.5" dy="4.4">against</tspan></text></g>
<g id="dia-9" transform="translate(1225,187)"><rect class="nt rbl" width="39" height="39"/><text class="n2" y="8.96"><tspan x="19.5">Simple and discreet</tspan><tspan x="19.5" dy="3.9">handling of the</tspan><tspan x="19.5" dy="3.9">measuring and</tspan><tspan x="19.5" dy="3.9">injection devices</tspan><tspan x="19.5" dy="3.9">that does not</tspan><tspan x="19.5" dy="3.9">interfere with</tspan><tspan x="19.5" dy="3.9">everyday life</tspan></text></g>
<g id="dia-10" transform="translate(1272,187)"><rect class="nt rbl" width="39" height="39"/><text class="n0" y="13.09"><tspan x="19.5">The app must actually</tspan><tspan x="19.5" dy="2.9">offer diabetics added</tspan><tspan x="19.5" dy="2.9">value and make their</tspan><tspan x="19.5" dy="2.9">lives easier. Otherwise,</tspan><tspan x="19.5" dy="2.9">it is additional effort</tspan><tspan x="19.5" dy="2.9">without any benefit.</tspan></text></g>
</g>

<g id="notes-right">
<g id="pharmacists-1" transform="translate(1083,243)"><rect class="nt gld" width="39" height="39"/><text class="n1" y="12.23"><tspan x="19.5">Can ensure that</tspan><tspan x="19.5" dy="3.3">app provides</tspan><tspan x="19.5" dy="3.3">reliable information</tspan><tspan x="19.5" dy="3.3">about diabetes</tspan><tspan x="19.5" dy="3.3">medications / their</tspan><tspan x="19.5" dy="3.3">side effects</tspan></text></g>
<g id="scientists-1" transform="translate(1084,314)"><rect class="nt per" width="38" height="38"/><text class="n1" y="12"><tspan x="19">Can assist in</tspan><tspan x="19" dy="3.3">scientifically</tspan><tspan x="19" dy="3.3">validating app</tspan><tspan x="19" dy="3.3">functionalities to</tspan><tspan x="19" dy="3.3">measure its real-</tspan><tspan x="19" dy="3.3">world effectiveness</tspan></text></g>
<g id="insurance-1" transform="translate(1084,363)"><rect class="nt hin" width="38" height="38"/><text class="n3" y="11.7"><tspan x="19">Can offer</tspan><tspan x="19" dy="4.4">financial</tspan><tspan x="19" dy="4.4">support for</tspan><tspan x="19" dy="4.4">app</tspan><tspan x="19" dy="4.4">development</tspan></text></g>
<g id="insurance-2" transform="translate(1127,363)"><rect class="nt hin" width="38" height="38"/><text class="n2" y="12.5"><tspan x="19">Incentive</tspan><tspan x="19" dy="3.9">programs to</tspan><tspan x="19" dy="3.9">promote app</tspan><tspan x="19" dy="3.9">usage for</tspan><tspan x="19" dy="3.9">improved health</tspan></text></g>
<g id="labs-1" transform="translate(1084,413)"><rect class="nt tea" width="38" height="38"/><text class="n2" y="12.5"><tspan x="19">Data integration</tspan><tspan x="19" dy="3.9">to provide users</tspan><tspan x="19" dy="3.9">with</tspan><tspan x="19" dy="3.9">comprehensive</tspan><tspan x="19" dy="3.9">health insights</tspan></text></g>
<g id="labs-2" transform="translate(1127,413)"><rect class="nt tea" width="38" height="38"/><text class="n1" y="13.5"><tspan x="19">Enhancement of</tspan><tspan x="19" dy="3.3">diabetes diagnosis</tspan><tspan x="19" dy="3.3">and management</tspan><tspan x="19" dy="3.3">through integrated</tspan><tspan x="19" dy="3.3">lab results</tspan></text></g>
<g id="edu-1" transform="translate(1084,462)"><rect class="nt edu" width="38" height="38"/><text class="n1" y="13.5"><tspan x="19">Can help with the</tspan><tspan x="19" dy="3.3">development of</tspan><tspan x="19" dy="3.3">training materials</tspan><tspan x="19" dy="3.3">and resources for</tspan><tspan x="19" dy="3.3">app users</tspan></text></g>
<g id="edu-2" transform="translate(1127,462)"><rect class="nt edu" width="38" height="38"/><text class="n2" y="14.4"><tspan x="19">Improve</tspan><tspan x="19" dy="3.9">understanding</tspan><tspan x="19" dy="3.9">of diabetes</tspan><tspan x="19" dy="3.9">and the app</tspan></text></g>
<g id="edu-3" transform="translate(1169,462)"><rect class="nt edu" width="38" height="38"/><text class="n5" y="14.5"><tspan x="19">Help</tspan><tspan x="19" dy="6.6">raising</tspan><tspan x="19" dy="6.6">awareness</tspan></text></g>
</g>

<g id="notes-hospitals">
<g id="hos-1" transform="translate(200,570)"><rect class="nt ygr" width="39" height="39"/><text class="n4" y="10.48"><tspan x="19.5">could use the</tspan><tspan x="19.5" dy="5.3">app to monitor</tspan><tspan x="19.5" dy="5.3">and support</tspan><tspan x="19.5" dy="5.3">their diabetic</tspan><tspan x="19.5" dy="5.3">patients</tspan></text></g>
<g id="hos-2" transform="translate(250,570)"><rect class="nt ygr" width="39" height="39"/><text class="n3" y="9.8"><tspan x="19.5">seek solutions</tspan><tspan x="19.5" dy="4.4">that are evidence-</tspan><tspan x="19.5" dy="4.4">based and can</tspan><tspan x="19.5" dy="4.4">integrate with</tspan><tspan x="19.5" dy="4.4">electronic health</tspan><tspan x="19.5" dy="4.4">records (EHRs)</tspan></text></g>
<g id="hos-3" transform="translate(299,570)"><rect class="nt ygr" width="39" height="39"/><text class="n0" y="11.64"><tspan x="19.5">Power can be high</tspan><tspan x="19.5" dy="2.9">because endorsement can</tspan><tspan x="19.5" dy="2.9">be influential, and they</tspan><tspan x="19.5" dy="2.9">are often gatekeepers to</tspan><tspan x="19.5" dy="2.9">patient access - but hard</tspan><tspan x="19.5" dy="2.9">to integrate if app</tspan><tspan x="19.5" dy="2.9">doesn't launch here</tspan></text></g>
<g id="hos-4" transform="translate(200,618)"><rect class="nt ygr" width="39" height="39"/><text class="n0" y="13.09"><tspan x="19.5">Important for them to</tspan><tspan x="19.5" dy="2.9">show easy integration</tspan><tspan x="19.5" dy="2.9">with existing systems,</tspan><tspan x="19.5" dy="2.9">ease of use, reliability</tspan><tspan x="19.5" dy="2.9">and improvements in</tspan><tspan x="19.5" dy="2.9">patient outcomes</tspan></text></g>
<g id="hos-5" transform="translate(250,618)"><rect class="nt ygr" width="39" height="39"/><text class="n4" y="10.48"><tspan x="19.5">may require</tspan><tspan x="19.5" dy="5.3">training and</tspan><tspan x="19.5" dy="5.3">ongoing support</tspan><tspan x="19.5" dy="5.3">for staff using</tspan><tspan x="19.5" dy="5.3">the app</tspan></text></g>
</g>

<g id="notes-caregivers">
<g id="car-1" transform="translate(422,570)"><rect class="nt car" width="39" height="39"/><text class="n1" y="10.58"><tspan x="19.5">Includes: family,</tspan><tspan x="19.5" dy="3.3">professional</tspan><tspan x="19.5" dy="3.3">caregivers,</tspan><tspan x="19.5" dy="3.3">community health</tspan><tspan x="19.5" dy="3.3">workers, social</tspan><tspan x="19.5" dy="3.3">worker, volunteer</tspan><tspan x="19.5" dy="3.3">workers.</tspan></text></g>
<g id="car-2" transform="translate(477,570)"><rect class="nt car" width="39" height="39"/><text class="n1" y="10.58"><tspan x="19.5">need a user friendly</tspan><tspan x="19.5" dy="3.3">interface,</tspan><tspan x="19.5" dy="3.3">accessibility</tspan><tspan x="19.5" dy="3.3">features, and tools</tspan><tspan x="19.5" dy="3.3">to assist with the</tspan><tspan x="19.5" dy="3.3">daily management</tspan><tspan x="19.5" dy="3.3">of the condition</tspan></text></g>
<g id="car-3" transform="translate(532,570)"><rect class="nt car" width="39" height="39"/><text class="n2" y="12.86"><tspan x="19.5">can provide</tspan><tspan x="19.5" dy="3.9">valuable feedback</tspan><tspan x="19.5" dy="3.9">on the app's</tspan><tspan x="19.5" dy="3.9">functionality and</tspan><tspan x="19.5" dy="3.9">usability</tspan></text></g>
<g id="car-4" transform="translate(422,618)"><rect class="nt car" width="39" height="39"/><text class="n1" y="12.23"><tspan x="19.5">are generally</tspan><tspan x="19.5" dy="3.3">supportive of tools</tspan><tspan x="19.5" dy="3.3">that can improve the</tspan><tspan x="19.5" dy="3.3">care and quality of</tspan><tspan x="19.5" dy="3.3">life for their loved</tspan><tspan x="19.5" dy="3.3">ones</tspan></text></g>
<g id="car-5" transform="translate(477,618)"><rect class="nt car" width="39" height="39"/><text class="n2" y="10.91"><tspan x="19.5">may be concerned</tspan><tspan x="19.5" dy="3.9">about the time</tspan><tspan x="19.5" dy="3.9">investment</tspan><tspan x="19.5" dy="3.9">required to learn</tspan><tspan x="19.5" dy="3.9">and use the app</tspan><tspan x="19.5" dy="3.9">effectively</tspan></text></g>
</g>

<g id="notes-pharma">
<g id="pha-1" transform="translate(633,570)"><rect class="nt pha" width="39" height="39"/><text class="n3" y="12"><tspan x="19.5">Companies that</tspan><tspan x="19.5" dy="4.4">produce insulin</tspan><tspan x="19.5" dy="4.4">and other</tspan><tspan x="19.5" dy="4.4">diabetes related</tspan><tspan x="19.5" dy="4.4">medications</tspan></text></g>
<g id="pha-2" transform="translate(688,570)"><rect class="nt pha" width="39" height="39"/><text class="n1" y="12.23"><tspan x="19.5">They might be</tspan><tspan x="19.5" dy="3.3">interested in data</tspan><tspan x="19.5" dy="3.3">generated by the</tspan><tspan x="19.5" dy="3.3">app for research</tspan><tspan x="19.5" dy="3.3">and development</tspan><tspan x="19.5" dy="3.3">purposes</tspan></text></g>
<g id="pha-3" transform="translate(743,570)"><rect class="nt pha" width="39" height="39"/><text class="n3" y="12"><tspan x="19.5">Could be seen</tspan><tspan x="19.5" dy="4.4">as</tspan><tspan x="19.5" dy="4.4">a collaborator</tspan><tspan x="19.5" dy="4.4">or potential</tspan><tspan x="19.5" dy="4.4">exit-strategy</tspan></text></g>
<g id="pha-4" transform="translate(633,618)"><rect class="nt pha" width="39" height="39"/><text class="n1" y="10.58"><tspan x="19.5">Potential for</tspan><tspan x="19.5" dy="3.3">partnerships,</tspan><tspan x="19.5" dy="3.3">integration with</tspan><tspan x="19.5" dy="3.3">their products, and</tspan><tspan x="19.5" dy="3.3">opportunities to</tspan><tspan x="19.5" dy="3.3">improve their</tspan><tspan x="19.5" dy="3.3">offerings</tspan></text></g>
<g id="pha-5" transform="translate(688,618)"><rect class="nt pha" width="39" height="39"/><text class="n2" y="10.91"><tspan x="19.5">apps as a way to</tspan><tspan x="19.5" dy="3.9">add value to their</tspan><tspan x="19.5" dy="3.9">products and</tspan><tspan x="19.5" dy="3.9">possibly a</tspan><tspan x="19.5" dy="3.9">marketing</tspan><tspan x="19.5" dy="3.9">advantage</tspan></text></g>
</g>

<g id="notes-cgms">
<g id="cgm-1" transform="translate(838,570)"><rect class="nt cgm" width="39" height="39"/><text class="n1" y="12.23"><tspan x="19.5">Companies that</tspan><tspan x="19.5" dy="3.3">provide continuous</tspan><tspan x="19.5" dy="3.3">glucose monitoring</tspan><tspan x="19.5" dy="3.3">systems for</tspan><tspan x="19.5" dy="3.3">diabetics (Dexcom,</tspan><tspan x="19.5" dy="3.3">Abbot, etc.)</tspan></text></g>
<g id="cgm-2" transform="translate(895,570)"><rect class="nt cgm" width="39" height="39"/><text class="n1" y="10.58"><tspan x="19.5">need seamless</tspan><tspan x="19.5" dy="3.3">integration with</tspan><tspan x="19.5" dy="3.3">their devices, data</tspan><tspan x="19.5" dy="3.3">accuracy, and real-</tspan><tspan x="19.5" dy="3.3">time data sharing</tspan><tspan x="19.5" dy="3.3">capabilities through</tspan><tspan x="19.5" dy="3.3">an API</tspan></text></g>
<g id="cgm-3" transform="translate(950,570)"><rect class="nt cgm" width="39" height="39"/><text class="n0" y="11.64"><tspan x="19.5">often view apps as a</tspan><tspan x="19.5" dy="2.9">key component of a</tspan><tspan x="19.5" dy="2.9">comprehensive</tspan><tspan x="19.5" dy="2.9">diabetes management</tspan><tspan x="19.5" dy="2.9">solution - don't know</tspan><tspan x="19.5" dy="2.9">yet if they consider us</tspan><tspan x="19.5" dy="2.9">competition</tspan></text></g>
<g id="cgm-4" transform="translate(838,617)"><rect class="nt cgm" width="39" height="39"/><text class="n4" y="10.48"><tspan x="19.5">Have high</tspan><tspan x="19.5" dy="5.3">power because</tspan><tspan x="19.5" dy="5.3">the app relies</tspan><tspan x="19.5" dy="5.3">on data from</tspan><tspan x="19.5" dy="5.3">CGMs</tspan></text></g>
<g id="cgm-5" transform="translate(895,617)"><rect class="nt cgm" width="39" height="39"/><text class="n1" y="12.23"><tspan x="19.5">Strategic</tspan><tspan x="19.5" dy="3.3">partnerships with</tspan><tspan x="19.5" dy="3.3">CGM providers can</tspan><tspan x="19.5" dy="3.3">be essential for</tspan><tspan x="19.5" dy="3.3">technical integration</tspan><tspan x="19.5" dy="3.3">and market access</tspan></text></g>
</g>

<g id="notes-copy-scientists">
<g id="node-copy-scientists" transform="translate(943,507)"><rect class="nt gry" width="44" height="35"/><text class="n0" y="12"><tspan x="22">Copy Scientists</tspan><tspan x="22" dy="2.9">(e.g. Data Scientist,</tspan><tspan x="22" dy="2.9">Knowledge</tspan><tspan x="22" dy="2.9">Center at Novo</tspan><tspan x="22" dy="2.9">NN)</tspan></text></g>
<g id="ai-1" transform="translate(1019,570)"><rect class="nt mag" width="38" height="33"/><text class="n1" y="10.88"><tspan x="19">AI / machine</tspan><tspan x="19" dy="3.3">learning required</tspan><tspan x="19" dy="3.3">to allow the app</tspan><tspan x="19" dy="3.3">to recognize</tspan><tspan x="19" dy="3.3">patterns</tspan></text></g>
<g id="ai-2" transform="translate(1060,570)"><rect class="nt mag" width="34" height="33"/><text class="n1" y="12.53"><tspan x="17">Are there already</tspan><tspan x="17" dy="3.3">AI solutions that</tspan><tspan x="17" dy="3.3">could be used for</tspan><tspan x="17" dy="3.3">our purpose?</tspan></text></g>
</g>
</svg>
